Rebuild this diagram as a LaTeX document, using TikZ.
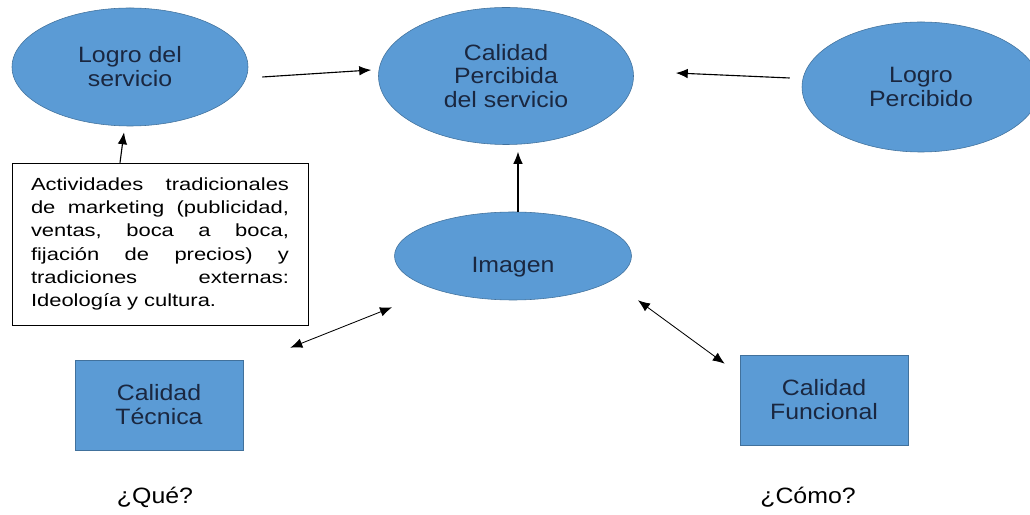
\documentclass[tikz,border=0pt]{standalone}
\usepackage{fontspec}
\setmainfont{Liberation Sans}[FakeStretch=1.12]
\newfontfamily\cajafont{Liberation Sans}[FakeStretch=1.25]
\usetikzlibrary{shapes.geometric,arrows.meta}
\definecolor{azul}{HTML}{5B9BD5}
\definecolor{borde}{HTML}{41719C}
\definecolor{letra}{HTML}{1A2740}
\newcommand{\linea}[1]{\makebox[6.45cm][l]{#1}}

\begin{document}
\begin{tikzpicture}[elipse/.style={ellipse,thin,draw=borde,fill=azul,text=letra,align=center,
                     font=\fontsize{15.8}{17}\selectfont},
                    bloque/.style={rectangle,thin,draw=borde,fill=azul,text=letra,align=center,
                     minimum width=4.2cm, minimum height=2.25cm, font=\fontsize{15.8}{17}\selectfont},
                    flecha/.style={-{Latex[length=3mm,width=2.4mm]},line width=0.8pt},
                    doble/.style={{Latex[length=3mm,width=2.4mm]}-{Latex[length=3mm,width=2.4mm]},line width=0.6pt}]
\useasboundingbox (0,0) rectangle (25.75,12.875);

\node[elipse, minimum width=5.9cm, minimum height=2.95cm] (logro) at (3.25,11.2) {Logro del\\servicio};
\node[elipse, minimum width=6.375cm, minimum height=3.425cm] (calidad) at (12.65,10.975)
      {Calidad\\Percibida\\del servicio};
\node[elipse, minimum width=5.95cm, minimum height=3.25cm] (percibido) at (23.025,10.7) {Logro\\Percibido};
\node[elipse, minimum width=5.925cm, minimum height=2.2cm] (imagen) at (12.825,6.475)
      {\raisebox{-0.42cm}[0pt][0pt]{Imagen}};

\node[rectangle, thin, draw, text width=6.45cm, inner xsep=0.475cm, minimum height=4.05cm,
      align=left, font={\cajafont\fontsize{12.5}{16.5}\selectfont}] (actividades) at (4.0,6.775)
      {\linea{Actividades\hfill tradicionales}\\\linea{de\hfill marketing\hfill (publicidad,}\\
       \linea{ventas,\hfill boca\hfill a\hfill boca,}\\\linea{fijación\hfill de\hfill precios)\hfill y}\\
       \linea{tradiciones\hfill externas:}\\Ideología y cultura.};

\node[bloque] (tecnica) at (3.975,2.75) {Calidad\\Técnica};
\node[bloque] (funcional) at (20.6,2.875) {Calidad\\Funcional};

\node[font=\fontsize{15.8}{17}\selectfont] (que) at (3.875,0.45) {¿Qué?};
\node[font=\fontsize{15.8}{17}\selectfont] (como) at (20.2,0.45) {¿Cómo?};

\draw[flecha] ([xshift=0.35cm,yshift=-0.25cm]logro.east) -- ([xshift=-0.175cm,yshift=0.15cm]calidad.west);
\draw[flecha] ([xshift=-0.3cm,yshift=0.225cm]percibido.west) -- ([xshift=1.05cm,yshift=0.075cm]calidad.east);
\draw[flecha] ([xshift=-1.0cm]actividades.north) -- ([xshift=-0.15cm,yshift=-0.15cm]logro.south);
\draw[flecha] ([xshift=0.125cm]imagen.north) -- ([xshift=0.3cm,yshift=-0.175cm]calidad.south);
\draw[doble] ([xshift=1.175cm,yshift=0.3cm]tecnica.north east) -- ([xshift=-0.925cm,yshift=-0.5cm]imagen.south west);
\draw[doble] ([xshift=1.025cm,yshift=-0.325cm]imagen.south east) -- ([xshift=-0.375cm,yshift=-0.225cm]funcional.north west);

\end{tikzpicture}
\end{document}
